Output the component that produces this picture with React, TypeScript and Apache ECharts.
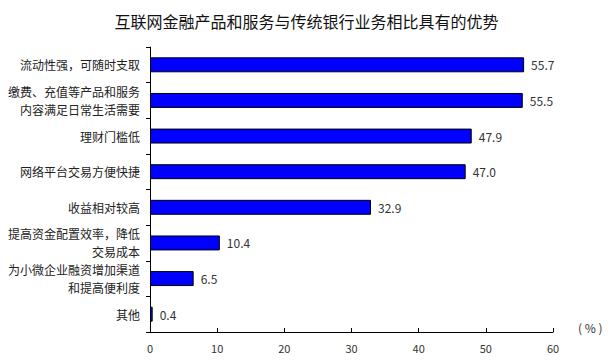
import React, { useEffect, useRef } from "react";
import * as echarts from "echarts";

const categories = [
  "流动性强，可随时支取",
  "缴费、充值等产品和服务\n内容满足日常生活需要",
  "理财门槛低",
  "网络平台交易方便快捷",
  "收益相对较高",
  "提高资金配置效率，降低\n交易成本",
  "为小微企业融资增加渠道\n和提高便利度",
  "其他",
];
const values = [55.7, 55.5, 47.9, 47.0, 32.9, 10.4, 6.5, 0.4];
const xTicks = [0, 10, 20, 30, 40, 50, 60];

export default function App() {
  const ref = useRef<HTMLDivElement>(null);
  useEffect(() => {
    if (!ref.current) return;
    document.body.style.margin = "0";
    const chart = echarts.init(ref.current, undefined, { renderer: "svg" });
    const font = "'Noto Sans CJK SC', sans-serif";
    chart.setOption({
      animation: false,
      backgroundColor: "#fff",
      title: {
        text: "互联网金融产品和服务与传统银行业务相比具有的优势",
        left: "center",
        top: 8,
        textStyle: { fontSize: 16, fontWeight: "normal", color: "#111", fontFamily: font },
      },
      graphic: [
        {
          type: "text",
          left: 578,
          top: 321,
          style: { text: "( % )", fontSize: 12, fill: "#333", fontFamily: font },
        },
      ],
      grid: { left: 150, right: 60, top: 47, bottom: 32, containLabel: false },
      xAxis: {
        type: "value",
        min: xTicks[0],
        max: xTicks[xTicks.length - 1],
        interval: 10,
        splitLine: { show: false },
        axisLine: { show: true, lineStyle: { color: "#000", width: 1 } },
        axisTick: { show: true, inside: true, length: 4, lineStyle: { color: "#000" } },
        axisLabel: { color: "#333", fontSize: 11, margin: 10, fontFamily: font },
      },
      yAxis: {
        type: "category",
        inverse: true,
        data: categories,
        axisLine: { show: true, lineStyle: { color: "#000", width: 1 } },
        axisTick: { show: true, length: 4, lineStyle: { color: "#000" } },
        axisLabel: {
          color: "#222",
          fontSize: 12,
          margin: 10,
          lineHeight: 18,
          align: "right",
          fontFamily: font,
        },
      },
      series: [
        {
          type: "bar",
          data: values,
          barWidth: "42%",
          itemStyle: { color: "#0000FF", borderColor: "#000", borderWidth: 1 },
          label: {
            show: true,
            position: "right",
            distance: 7,
            color: "#333",
            fontSize: 12,
            fontFamily: font,
            formatter: (p: any) => p.value.toFixed(1),
          },
        },
      ],
    });
    return () => chart.dispose();
  }, []);
  return <div ref={ref} style={{ width: 613, height: 364 }} />;
}
